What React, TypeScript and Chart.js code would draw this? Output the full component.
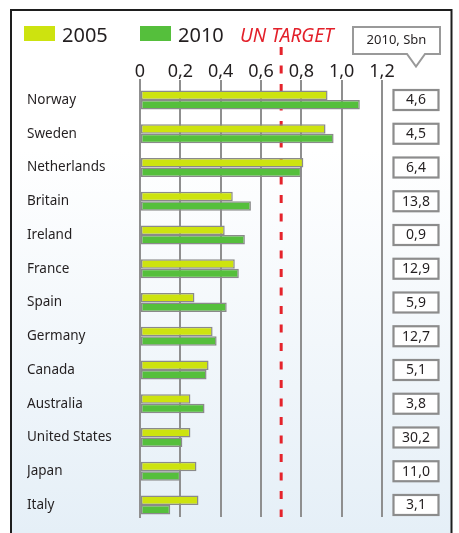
import React, { useEffect, useRef } from 'react';
import { Chart, registerables } from 'chart.js';

Chart.register(...registerables);

const countries = ['Norway', 'Sweden', 'Netherlands', 'Britain', 'Ireland', 'France', 'Spain', 'Germany', 'Canada', 'Australia', 'United States', 'Japan', 'Italy'];
const values2005 = [0.93, 0.92, 0.81, 0.46, 0.42, 0.47, 0.27, 0.36, 0.34, 0.25, 0.25, 0.28, 0.29];
const values2010 = [1.09, 0.96, 0.80, 0.55, 0.52, 0.49, 0.43, 0.38, 0.33, 0.32, 0.21, 0.20, 0.15];
const aid2010Bn = [4.6, 4.5, 6.4, 13.8, 0.9, 12.9, 5.9, 12.7, 5.1, 3.8, 30.2, 11.0, 3.1];
const xTickLabels = ['0', '0,2', '0,4', '0,6', '0,8', '1,0', '1,2'];
const seriesLabels = ['2005', '2010'];
const unTarget = 0.7;
const unTargetLabel = 'UN TARGET';
const calloutLabel = '2010, Sbn';

const FONT = '"Noto Sans", sans-serif';
const C2005 = '#cde30f';
const C2010 = '#55bf3c';
const GRID = '#8f8f8f';
const TEXT = '#231f20';

const fmt = (v: number) => v.toFixed(1).replace('.', ',');

const decor = {
  id: 'decor',
  beforeDraw(chart: any) {
    const ctx = chart.ctx as CanvasRenderingContext2D;
    const W = chart.width;
    const H = chart.height;
    ctx.save();
    ctx.fillStyle = '#ffffff';
    ctx.fillRect(0, 0, W, H);
    const g = ctx.createLinearGradient(0, 150, 0, H);
    g.addColorStop(0, '#ffffff');
    g.addColorStop(1, '#e5eff7');
    ctx.fillStyle = g;
    ctx.fillRect(11, 11, 440, H - 11);
    // frame
    ctx.strokeStyle = '#1e1e1e';
    ctx.lineWidth = 2;
    ctx.beginPath();
    ctx.moveTo(11, H + 2);
    ctx.lineTo(11, 10);
    ctx.lineTo(451.5, 10);
    ctx.lineTo(451.5, H + 2);
    ctx.stroke();
    // legend
    const swatches = [
      { x: 24, color: C2005, label: seriesLabels[0], tx: 62 },
      { x: 140, color: C2010, label: seriesLabels[1], tx: 178 },
    ];
    ctx.font = `20px ${FONT}`;
    ctx.textBaseline = 'alphabetic';
    ctx.textAlign = 'left';
    for (const s of swatches) {
      ctx.fillStyle = s.color;
      ctx.fillRect(s.x, 26, 31, 15);
      ctx.fillStyle = TEXT;
      ctx.fillText(s.label, s.tx, 41.5);
    }
    ctx.fillStyle = '#e3202a';
    ctx.font = `italic 19px ${FONT}`;
    ctx.fillText(unTargetLabel, 240, 41.5);
    // callout
    ctx.beginPath();
    ctx.moveTo(353, 27);
    ctx.lineTo(440, 27);
    ctx.lineTo(440, 54);
    ctx.lineTo(425, 54);
    ctx.lineTo(416, 66.5);
    ctx.lineTo(407, 54);
    ctx.lineTo(353, 54);
    ctx.closePath();
    ctx.fillStyle = '#ffffff';
    ctx.fill();
    ctx.strokeStyle = '#999999';
    ctx.lineWidth = 2;
    ctx.stroke();
    ctx.fillStyle = TEXT;
    ctx.font = `13px ${FONT}`;
    ctx.textAlign = 'center';
    ctx.textBaseline = 'middle';
    ctx.fillText(calloutLabel, 396.5, 40.5);
    ctx.restore();
  },
  beforeDatasetsDraw(chart: any) {
    const ctx = chart.ctx as CanvasRenderingContext2D;
    const x = chart.scales.x.getPixelForValue(unTarget);
    ctx.save();
    ctx.strokeStyle = '#e5232b';
    ctx.lineWidth = 3;
    ctx.setLineDash([8, 10.5]);
    ctx.beginPath();
    ctx.moveTo(x, 47);
    ctx.lineTo(x, chart.chartArea.bottom);
    ctx.stroke();
    ctx.restore();
  },
  afterDraw(chart: any) {
    const ctx = chart.ctx as CanvasRenderingContext2D;
    const ys = chart.scales.y;
    ctx.save();
    ctx.font = `14px ${FONT}`;
    ctx.textAlign = 'center';
    ctx.textBaseline = 'middle';
    aid2010Bn.forEach((v, i) => {
      const y = ys.getPixelForValue(i);
      ctx.fillStyle = '#ffffff';
      ctx.fillRect(393.5, y - 10, 45, 20);
      ctx.strokeStyle = '#8c8c8c';
      ctx.lineWidth = 2.2;
      ctx.strokeRect(393.5, y - 10, 45, 20);
      ctx.fillStyle = TEXT;
      ctx.fillText(fmt(v), 416, y + 0.5);
    });
    ctx.restore();
  },
};

export default function App() {
  const ref = useRef<HTMLCanvasElement>(null);
  useEffect(() => {
    document.body.style.margin = '0';
    const canvas = ref.current!;
    const barDefaults = {
      borderColor: '#8a8a8a',
      borderWidth: 1.5,
      borderSkipped: false,
      inflateAmount: 0,
      categoryPercentage: 0.56,
      barPercentage: 1,
    };
    const chart = new Chart(canvas, {
      type: 'bar',
      data: {
        datasets: [
          {
            label: seriesLabels[0],
            data: values2005.map((v, i) => ({ x: v, y: i })),
            backgroundColor: C2005,
            ...barDefaults,
          },
          {
            label: seriesLabels[1],
            data: values2010.map((v, i) => ({ x: v, y: i })),
            backgroundColor: C2010,
            ...barDefaults,
          },
        ],
      },
      options: {
        indexAxis: 'y',
        responsive: false,
        animation: false,
        devicePixelRatio: 1,
        layout: { padding: { left: 27, right: 77, top: 0, bottom: 16 } },
        plugins: { legend: { display: false }, tooltip: { enabled: false } },
        scales: {
          x: {
            type: 'linear',
            position: 'top',
            min: 0,
            max: 1.2,
            ticks: {
              stepSize: 0.2,
              padding: -3,
              color: TEXT,
              font: { family: FONT, size: 18 },
              callback: (_v: any, i: number) => xTickLabels[i],
            },
            grid: { color: GRID, lineWidth: 2, drawTicks: false },
            border: { display: false },
            afterFit: (s: any) => { s.height = 80; },
          },
          y: {
            type: 'linear',
            position: 'left',
            reverse: true,
            offset: false,
            min: -0.593,
            max: 12.356,
            grid: { display: false, drawTicks: false },
            border: { display: true, color: GRID, width: 2 },
            afterBuildTicks: (s: any) => { s.ticks = countries.map((_c, i) => ({ value: i })); },
            ticks: {
              crossAlign: 'far',
              padding: 0,
              color: TEXT,
              font: { family: FONT, size: 13.5 },
              callback: (v: any) => countries[v],
            },
            afterFit: (s: any) => { s.width = 113; },
          },
        },
      },
      plugins: [decor],
    } as any);
    return () => chart.destroy();
  }, []);
  return (
    <div style={{ width: 459, height: 533 }}>
      <canvas ref={ref} width={459} height={533} style={{ display: 'block' }} />
    </div>
  );
}
